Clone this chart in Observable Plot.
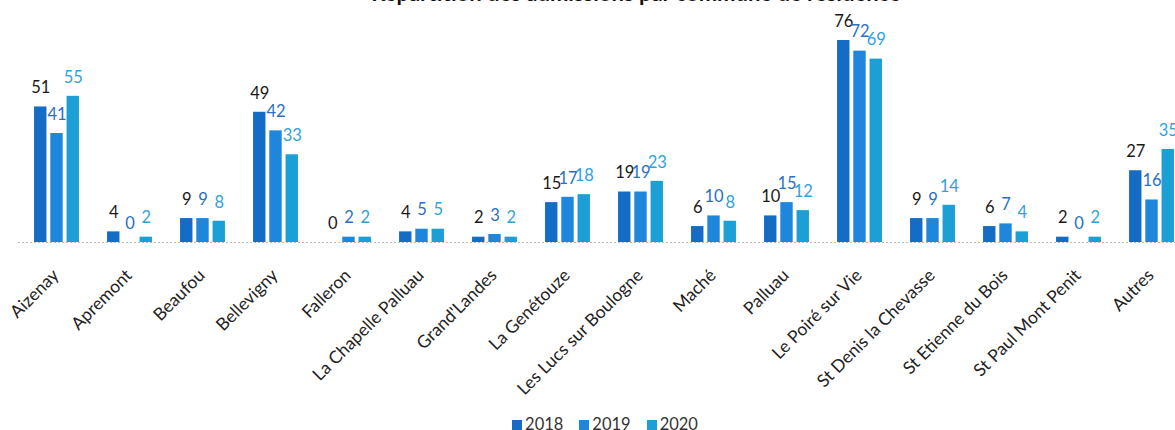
<!DOCTYPE html>
<html>
<head>
<meta charset="utf-8">
<script src="https://cdn.jsdelivr.net/npm/d3@7"></script>
<script src="https://cdn.jsdelivr.net/npm/@observablehq/plot@0.6"></script>
<style>
  body { margin:0; background:#fff; font-family: Lato, "Open Sans", sans-serif; overflow:hidden; }
  #wrap { position:relative; width:1175px; height:430px; overflow:hidden; }
  #title { position:absolute; top:-18px; left:0; width:1175px; padding-left:97px; box-sizing:border-box; text-align:center; font-weight:bold; font-size:22px; line-height:22px; color:#111; z-index:2; white-space:nowrap; }
  #chart { position:absolute; top:0; left:0; }
  #legend { position:absolute; top:415px; left:0; width:1175px; padding-left:35px; box-sizing:border-box; text-align:center; font-size:16.5px; line-height:18px; color:#333; white-space:nowrap; }
  #legend span.item { display:inline-block; margin:0 8px; }
  #legend span.sw { display:inline-block; width:10px; height:10px; margin-right:3px; vertical-align:0px; }
</style>
</head>
<body>
<div id="wrap">
  <div id="title">Répartition des admissions par commune de résidence</div>
  <div id="chart"></div>
  <div id="legend"></div>
</div>
<script>
const communes = ["Aizenay","Apremont","Beaufou","Bellevigny","Falleron","La Chapelle Palluau","Grand'Landes","La Genétouze","Les Lucs sur Boulogne","Maché","Palluau","Le Poiré sur Vie","St Denis la Chevasse","St Etienne du Bois","St Paul Mont Penit","Autres"];
const years = ["2018","2019","2020"];
const v2018 = [51,4,9,49,0,4,2,15,19,6,10,76,9,6,2,27];
const v2019 = [41,0,9,42,2,5,3,17,19,10,15,72,9,7,0,16];
const v2020 = [55,2,8,33,2,5,2,18,23,8,12,69,14,4,2,35];
const barColors = ["#156cc4","#1e87dc","#1c9fd4"];
const labelColors = ["#1a1a1a","#2a6fc4","#2ea2dc"];

const series = [v2018, v2019, v2020];
const data = communes.flatMap((c, i) => years.map((y, k) => ({commune: c, year: y, value: series[k][i]})));

const step = 16.25;
const marks = [
  Plot.ruleY([0], {stroke:"#bdbdbd", strokeDasharray:"2,2"})
];
years.forEach((y, k) => {
  const sub = data.filter(d => d.year === y);
  marks.push(Plot.barY(sub, {x:"commune", y:"value", fill: barColors[k], insetLeft:30.3, insetRight:30.3, dx:(k-1)*step}));
});
years.forEach((y, k) => {
  const sub = data.filter(d => d.year === y);
  marks.push(Plot.text(sub, {x:"commune", y:"value", text: d => String(d.value), fill: labelColors[k], fontSize:16.5, dx:(k-1)*step, dy:-19}));
});
marks.push(Plot.axisX({tickRotate:-45, tickSize:0, tickPadding:22, fontSize:17.5, fill:"#222", dx:-1, label:null}));

const chart = Plot.plot({
  width:1175,
  height:410,
  marginLeft:18,
  marginRight:0,
  marginTop:0,
  marginBottom:160,
  style:{fontFamily:"Lato, 'Open Sans', sans-serif", background:"#fff"},
  x:{domain:communes, range:[18.5,1188.5], padding:0, label:null},
  y:{domain:[0,76], range:[242,40], axis:null},
  marks
});
document.getElementById("chart").appendChild(chart);

const legend = document.getElementById("legend");
years.forEach((y, k) => {
  const item = document.createElement("span");
  item.className = "item";
  const sw = document.createElement("span");
  sw.className = "sw";
  sw.style.background = barColors[k];
  item.appendChild(sw);
  item.appendChild(document.createTextNode(y));
  legend.appendChild(item);
});
</script>
</body>
</html>
